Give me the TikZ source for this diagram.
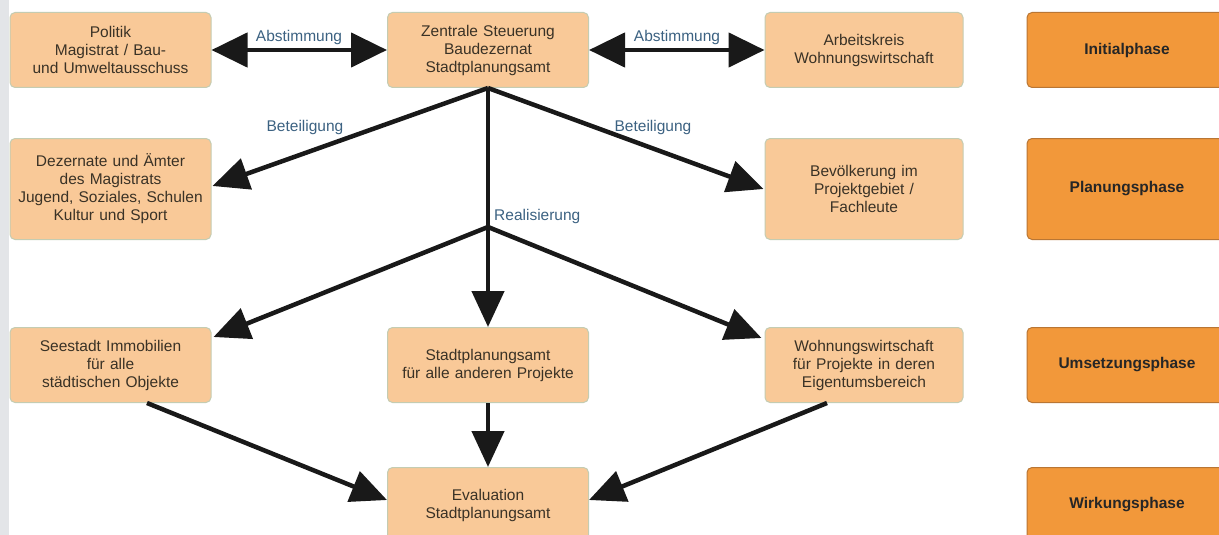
\documentclass[tikz,border=0pt]{standalone}
\usepackage{fontspec}
\setmainfont{Liberation Sans}
\usetikzlibrary{arrows.meta,calc}
\definecolor{boxfill}{RGB}{249,201,152}
\definecolor{boxdraw}{RGB}{196,204,178}
\definecolor{phasefill}{RGB}{242,152,58}
\definecolor{phasedraw}{RGB}{185,118,52}
\definecolor{boxtext}{RGB}{58,50,38}
\definecolor{labeltext}{RGB}{60,98,130}
\definecolor{stripc}{RGB}{227,229,232}
\definecolor{arrowc}{RGB}{25,25,25}
\begin{document}
\begin{tikzpicture}[x=1pt,y=-1pt,
  box/.style={draw=boxdraw, line width=1pt, fill=boxfill, rounded corners=5pt,
    minimum width=201pt, minimum height=75pt, text width=195pt, align=center,
    inner sep=0pt, text=boxtext, font=\fontsize{15.5}{18}\selectfont},
  tallbox/.style={box, minimum height=101pt},
  phase/.style={draw=phasedraw, line width=1pt, fill=phasefill, rounded corners=5pt,
    minimum width=200pt, minimum height=75pt, inner sep=0pt,
    font=\bfseries\fontsize{15.5}{18}\selectfont, text=black!85},
  tallphase/.style={phase, minimum height=101pt},
  lbl/.style={text=labeltext, inner sep=1pt, font=\fontsize{15.5}{18}\selectfont},
  conn/.style={draw=arrowc, line width=4.5pt, -{Triangle[length=36pt,width=32pt]}},
  dconn/.style={draw=arrowc, line width=4.5pt, {Triangle[length=36pt,width=34pt]}-{Triangle[length=36pt,width=34pt]}},
  plain/.style={draw=arrowc, line width=4.5pt}
]
\useasboundingbox (0,0) rectangle (1219,535);
\clip (0,0) rectangle (1219,535);
\fill[white] (0,0) rectangle (1219,535);
\fill[stripc] (0,0) rectangle (9,535);

% boxes
\node[box] (pol) at (110.5,50) {Politik\\Magistrat / Bau-\\und Umweltausschuss};
\node[box] (zen) at (488,50) {Zentrale Steuerung\\Baudezernat\\Stadtplanungsamt};
\node[box, minimum width=198pt] (ark) at (864,50) {Arbeitskreis\\Wohnungswirtschaft};
\node[phase] (ini) at (1127,50) {Initialphase};

\node[tallbox] (dez) at (110.5,189) {Dezernate und Ämter\\des Magistrats\\Jugend, Soziales, Schulen\\Kultur und Sport};
\node[tallbox, minimum width=198pt] (bev) at (864,189) {Bevölkerung im\\Projektgebiet /\\Fachleute};
\node[tallphase] (pla) at (1127,189) {Planungsphase};

\node[box] (see) at (110.5,365) {Seestadt Immobilien\\für alle\\städtischen Objekte};
\node[box] (stp) at (488,365) {Stadtplanungsamt\\für alle anderen Projekte};
\node[box, minimum width=198pt] (woh) at (864,365) {Wohnungswirtschaft\\für Projekte in deren\\Eigentumsbereich};
\node[phase] (ums) at (1127,365) {Umsetzungsphase};

\node[box] (eva) at (488,505) {Evaluation\\Stadtplanungsamt};
\node[phase] (wir) at (1127,505) {Wirkungsphase};

% junction
\coordinate (J) at (488,227);

% connectors
\draw[dconn] (pol.east) -- (zen.west);
\draw[dconn] (zen.east) -- (ark.west);
\node[lbl] (ab1) at (299,37) {Abstimmung};
\node[lbl] (ab2) at (677,37) {Abstimmung};

\draw[conn] (zen.south) -- ($(dez.east)+(1,-3)$);
\draw[conn] (zen.south) -- ($(bev.west)+(-1,0)$);
\node[lbl] (be1) at (305,127) {Beteiligung};
\node[lbl] (be2) at (653,127) {Beteiligung};

\draw[plain] (zen.south) -- (J);
\node[lbl, anchor=west] (rea) at (493,216) {Realisierung};

\draw[conn] (J) -- ($(see.north east)+(2,10)$);
\draw[conn] (J) -- (stp.north);
\draw[conn] (J) -- ($(woh.north west)+(-3,11)$);

\draw[conn] ($(see.south)+(36.5,0)$) -- ($(eva.west)+(0,-5)$);
\draw[conn] (stp.south) -- (eva.north);
\draw[conn] ($(woh.south)+(-37,0)$) -- ($(eva.east)+(0,-5)$);
\end{tikzpicture}
\end{document}
